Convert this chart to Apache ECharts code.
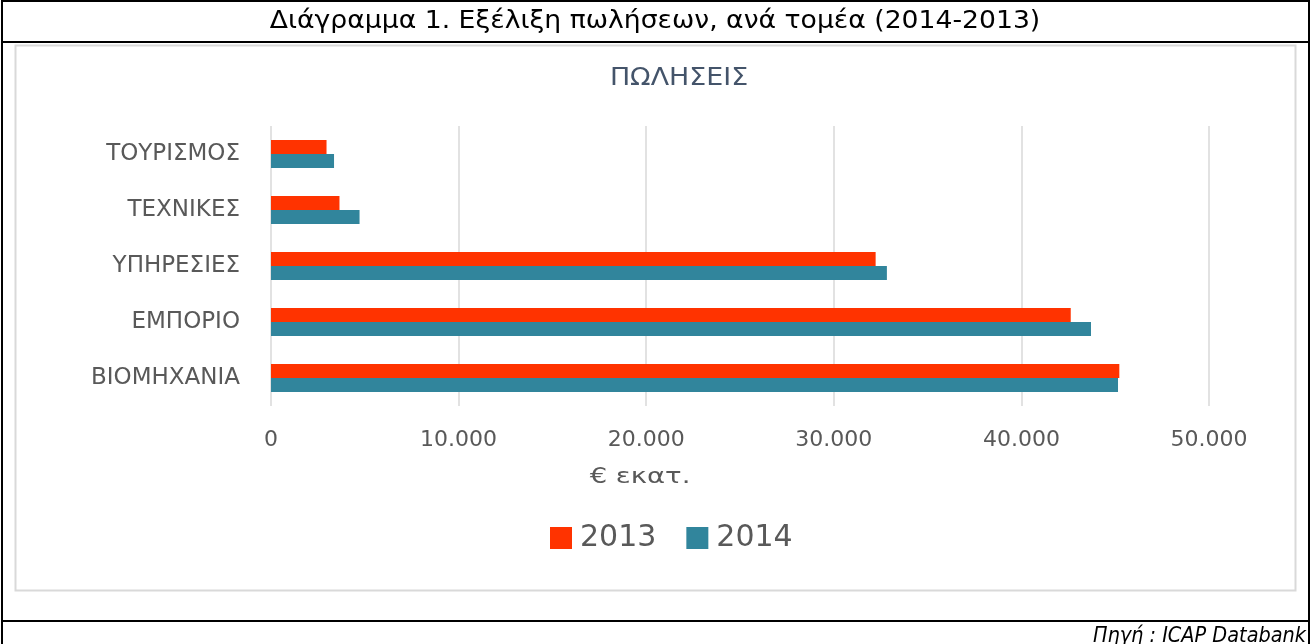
<!DOCTYPE html>
<html><head><meta charset="utf-8">
<script src="https://cdn.jsdelivr.net/npm/echarts@6/dist/echarts.min.js"></script>
<style>html,body{margin:0;padding:0;background:#fff;}#c{width:1311px;height:644px;}</style>
</head><body><div id="c"></div>
<script>
const categories = ['ΤΟΥΡΙΣΜΟΣ','ΤΕΧΝΙΚΕΣ','ΥΠΗΡΕΣΙΕΣ','ΕΜΠΟΡΙΟ','ΒΙΟΜΗΧΑΝΙΑ'];
const values2013 = [2960, 3650, 32230, 42630, 45220];
const values2014 = [3360, 4720, 32830, 43710, 45150];
const seriesNames = ['2013','2014'];
const headerText = 'Διάγραμμα 1. Εξέλιξη πωλήσεων, ανά τομέα (2014-2013)';
const chartTitle = 'ΠΩΛΗΣΕΙΣ';
const axisName = '€ εκατ.';
const sourceText = 'Πηγή : ICAP Databank';

const chart = echarts.init(document.getElementById('c'), null, {renderer:'canvas'});
const fmt = v => String(v).replace(/\B(?=(\d{3})+(?!\d))/g, '.');
const inner = '"DejaVu Sans", "Noto Sans", sans-serif';
chart.setOption({
  animation: false,
  backgroundColor: '#fff',
  legend: {
    data: seriesNames, left: 545, top: 518, itemWidth: 22, itemHeight: 22, itemGap: 30,
    icon: 'rect',
    textStyle: {fontFamily: inner, fontSize: 30, color: '#595959', padding: [0, 0, 0, 3]}
  },
  grid: {left: 271, right: 102, top: 126, bottom: 238, containLabel: false},
  xAxis: {
    type: 'value', min: 0, max: 50000, interval: 10000,
    axisLine: {show: false}, axisTick: {show: false},
    splitLine: {show: true, lineStyle: {color: '#d9d9d9', width: 1.5}},
    axisLabel: {formatter: fmt, margin: 23, fontFamily: inner, fontSize: 22, color: '#595959'}
  },
  yAxis: {
    type: 'category', data: categories, inverse: true,
    axisLine: {show: false}, axisTick: {show: false},
    axisLabel: {margin: 31, fontFamily: inner, fontSize: 23, color: '#595959'}
  },
  series: [
    {name: seriesNames[0], type: 'bar', data: values2013, barGap: '0%', barCategoryGap: '50%',
     itemStyle: {color: '#ff3300'}},
    {name: seriesNames[1], type: 'bar', data: values2014, barGap: '0%', barCategoryGap: '50%',
     itemStyle: {color: '#31859c'}}
  ],
  graphic: [
    {type: 'rect', shape: {x: 15.5, y: 45.5, width: 1280, height: 545}, style: {fill: 'none', stroke: '#d9d9d9', lineWidth: 2}, z: -1},
    {type: 'rect', shape: {x: 2, y: 1, width: 1307, height: 660}, style: {fill: 'none', stroke: '#000', lineWidth: 2}},
    {type: 'line', shape: {x1: 2, y1: 42, x2: 1309, y2: 42}, style: {stroke: '#000', lineWidth: 2}},
    {type: 'line', shape: {x1: 2, y1: 621, x2: 1309, y2: 621}, style: {stroke: '#000', lineWidth: 2}},
    {type: 'text', x: 655, y: 22, scaleX: 1.11,
     style: {text: headerText, x: 0, y: 0, align: 'center', verticalAlign: 'middle', font: '24px "DejaVu Sans"', fill: '#000'}},
    {type: 'text', x: 679, y: 79, scaleX: 1.12,
     style: {text: chartTitle, x: 0, y: 0, align: 'center', verticalAlign: 'middle', font: '24px "DejaVu Sans"', fill: '#44546a'}},
    {type: 'text', x: 640, y: 477, scaleX: 1.25,
     style: {text: axisName, x: 0, y: 0, align: 'center', verticalAlign: 'middle', font: '22px "DejaVu Sans"', fill: '#595959'}},
    {type: 'text', x: 1306, y: 637, scaleX: 0.92,
     style: {text: sourceText, x: 0, y: 0, align: 'right', verticalAlign: 'middle', font: 'italic 21px "DejaVu Sans"', fill: '#000'}}
  ]
});
</script></body></html>
